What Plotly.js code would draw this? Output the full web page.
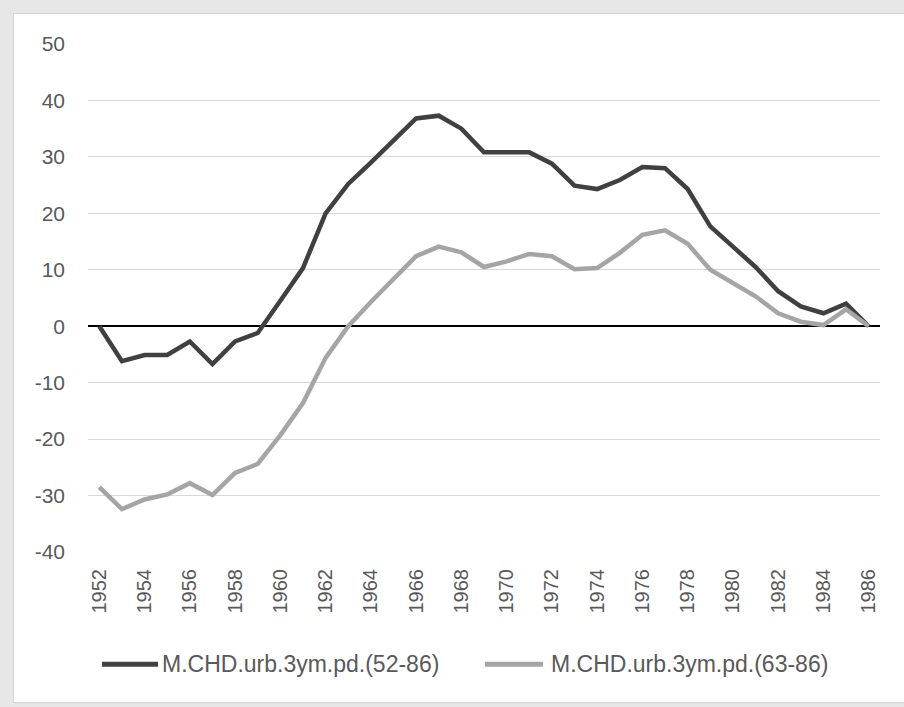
<!DOCTYPE html>
<html>
<head>
<meta charset="utf-8">
<script src="https://cdn.plot.ly/plotly-3.0.1.min.js"></script>
<style>
  html, body { margin: 0; padding: 0; width: 904px; height: 707px; overflow: hidden; background: #e7e7e7; }
  #frame { position: absolute; left: 13px; top: 13px; width: 890px; height: 688px; background: #ffffff; border: 1px solid #d4d4d4; }
  #chart { width: 890px; height: 688px; }
</style>
</head>
<body>
<div id="frame"><div id="chart"></div></div>
<script>
// Categories (years)
const years = [1952,1953,1954,1955,1956,1957,1958,1959,1960,1961,1962,1963,1964,1965,1966,1967,1968,1969,1970,1971,1972,1973,1974,1975,1976,1977,1978,1979,1980,1981,1982,1983,1984,1985,1986];
// Series values
const series5286 = [0, -6.2, -5.1, -5.1, -2.7, -6.7, -2.7, -1.2, 4.5, 10.3, 20.0, 25.2, 29.0, 32.8, 36.8, 37.3, 35.0, 30.8, 30.8, 30.8, 28.8, 24.9, 24.3, 25.9, 28.2, 28.0, 24.3, 17.7, 14.1, 10.5, 6.2, 3.5, 2.3, 4.0, 0];
const series6386 = [-28.5, -32.4, -30.7, -29.8, -27.8, -29.9, -26.0, -24.4, -19.3, -13.6, -5.6, 0.0, 4.3, 8.3, 12.4, 14.1, 13.1, 10.5, 11.5, 12.8, 12.4, 10.1, 10.3, 13.0, 16.2, 17.0, 14.6, 10.0, 7.6, 5.3, 2.3, 0.8, 0.2, 3.0, 0];
const seriesNames = ["M.CHD.urb.3ym.pd.(52-86)", "M.CHD.urb.3ym.pd.(63-86)"];
const seriesColors = ["#404040", "#a5a5a5"];
// Tick labels
const xTickVals = [1952,1954,1956,1958,1960,1962,1964,1966,1968,1970,1972,1974,1976,1978,1980,1982,1984,1986];
const yTickVals = [-40,-30,-20,-10,0,10,20,30,40,50];

const FONT = "Liberation Sans, Arial, sans-serif";
const TXT = "#595959";

const traces = [
  { x: years, y: series5286, type: "scatter", mode: "lines", name: seriesNames[0],
    line: { color: seriesColors[0], width: 4.5 } },
  { x: years, y: series6386, type: "scatter", mode: "lines", name: seriesNames[1],
    line: { color: seriesColors[1], width: 4.5 } }
];

// Legend drawn below the plot (paper coordinates)
const legY = -0.2212;
const legendItems = [
  { x0: 0.0177, x1: 0.0884, tx: 0.0905 },
  { x0: 0.5013, x1: 0.5745, tx: 0.5815 }
];
const shapes = legendItems.map((it, i) => ({
  type: "line", xref: "paper", yref: "paper", x0: it.x0, x1: it.x1, y0: legY, y1: legY,
  line: { color: seriesColors[i], width: 5 }
}));
const annotations = legendItems.map((it, i) => ({
  xref: "paper", yref: "paper", x: it.tx, y: legY, xanchor: "left", yanchor: "middle",
  text: seriesNames[i], showarrow: false,
  font: { family: FONT, size: 23, color: TXT }
}));

const layout = {
  width: 890, height: 688,
  margin: { l: 74, r: 24, t: 30, b: 149.5, pad: 0 },
  paper_bgcolor: "#ffffff",
  plot_bgcolor: "#ffffff",
  font: { family: FONT, color: TXT, size: 20 },
  showlegend: false,
  shapes: shapes,
  annotations: annotations,
  xaxis: {
    type: "linear", range: [1951.5, 1986.5],
    tickmode: "array", tickvals: xTickVals, ticktext: xTickVals.map(String),
    tickangle: -90, showgrid: false, zeroline: false, showline: false,
    ticks: "", ticklabelstandoff: 12,
    tickfont: { family: FONT, size: 20, color: TXT }
  },
  yaxis: {
    range: [-40, 50], tickmode: "array", tickvals: yTickVals, ticktext: yTickVals.map(String),
    showgrid: true, gridcolor: "#d9d9d9", gridwidth: 1,
    zeroline: true, zerolinecolor: "#000000", zerolinewidth: 2,
    showline: false, ticks: "", ticklabelstandoff: 22,
    tickfont: { family: FONT, size: 21, color: TXT }
  }
};

Plotly.newPlot("chart", traces, layout, { displayModeBar: false, staticPlot: true });
</script>
</body>
</html>
